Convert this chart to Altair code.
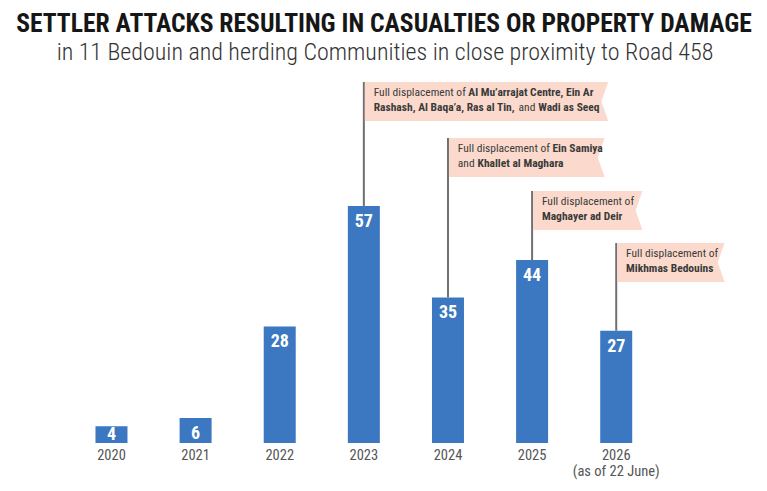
import altair as alt
import pandas as pd

# --- chart values -----------------------------------------------------------
years = ["2020", "2021", "2022", "2023", "2024", "2025", "2026"]
year_labels = ["2020", "2021", "2022", "2023", "2024", "2025", "2026\n(as of 22 June)"]
attacks = [4, 6, 28, 57, 35, 44, 27]

# displacement call-outs: which year they hang from
note_years = ["2023", "2024", "2025", "2026"]
# call-out text, split into (line, text, bold) runs
note_runs = [
    [(0, "Full displacement of", False), (0, "Al Mu\u2019arrajat Centre, Ein Ar", True),
     (1, "Rashash, Al Baqa\u2019a, Ras al Tin,", True), (1, "and", False), (1, "Wadi as Seeq", True)],
    [(0, "Full displacement of", False), (0, "Ein Samiya", True),
     (1, "and", False), (1, "Khallet al Maghara", True)],
    [(0, "Full displacement of", False), (1, "Maghayer ad Deir", True)],
    [(0, "Full displacement of", False), (1, "Mikhmas Bedouins", True)],
]

# --- layout -----------------------------------------------------------------
W, H = 683, 366
X_DOMAIN = [-0.6, 7.4]
Y_DOMAIN = [0, 88]
PX_X = W / (X_DOMAIN[1] - X_DOMAIN[0])   # pixels per x unit
PX_Y = H / (Y_DOMAIN[1] - Y_DOMAIN[0])   # pixels per y unit

note_top_px = [361, 305, 252, 200]       # banner top, px above the baseline
note_width_px = [247, 158, 111, 109]
note_run_dx_px = [
    [0, 96, 0, 147, 167],
    [0, 96, 0, 20],
    [0, 0],
    [0, 0],
]
BANNER_H = 39
NOTCH = 7
TEXT_PAD = 10
LINE_1 = 14
LINE_GAP = 14.5

FONT = "Roboto Condensed"
BLUE = "#3b78c1"
PEACH = "#fbdacd"
GREY_LINE = "#707070"

bars = pd.DataFrame({"idx": list(range(len(years))), "year": years,
                     "label": year_labels, "attacks": attacks})
bars["label_y"] = (bars["attacks"] - 5).clip(lower=0.7)
bars["zero"] = 0

notes = []
outline = []
runs = []
for n, yr in enumerate(note_years):
    i = years.index(yr)
    top = note_top_px[n] / PX_Y
    bottom = top - BANNER_H / PX_Y
    left = i + 1 / PX_X
    right = left + note_width_px[n] / PX_X
    notes.append({"idx": i, "attacks": attacks[i], "top": top})
    # banner outline with a swallow-tail cut on the right end
    for py, px in [(top, right), ((top + bottom) / 2, right - NOTCH / PX_X), (bottom, right)]:
        outline.append({"note": n, "py": py, "px": px, "left": left})
    for (line, text, bold), dx in zip(note_runs[n], note_run_dx_px[n]):
        runs.append({"x": i + (TEXT_PAD + dx) / PX_X,
                     "y": top - (LINE_1 + line * LINE_GAP) / PX_Y,
                     "text": text, "bold": bold})
notes = pd.DataFrame(notes)
outline = pd.DataFrame(outline)
runs = pd.DataFrame(runs)

xs = alt.Scale(domain=X_DOMAIN, nice=False, zero=False)
ys = alt.Scale(domain=Y_DOMAIN, nice=False)


def X(field):
    return alt.X(field, type="quantitative", scale=xs, axis=None)


def Y(field):
    return alt.Y(field, type="quantitative", scale=ys, axis=None)


base = alt.Chart(bars)

bar_layer = base.mark_bar(size=32, color=BLUE).encode(x=X("idx"), y=Y("attacks"))

value_text = base.mark_text(font=FONT, fontSize=18, fontWeight="bold",
                            color="white", baseline="alphabetic").encode(
    x=X("idx"), y=Y("label_y"), text=alt.Text("attacks:Q"),
)

year_text = base.mark_text(font=FONT, fontSize=14.5, color="#555555",
                           baseline="alphabetic", dy=17, lineBreak="\n",
                           lineHeight=16).encode(
    x=X("idx"), y=Y("zero"), text=alt.Text("label:N"),
)

leader = alt.Chart(notes).mark_rule(color=GREY_LINE, strokeWidth=2).encode(
    x=X("idx"), y=Y("attacks"), y2=alt.Y2("top"),
)

banner = alt.Chart(outline).mark_area(orient="horizontal", color=PEACH, opacity=1).encode(
    y=Y("py"), x=X("px"), x2=alt.X2("left"), detail=alt.Detail("note:N"),
)


def run_layer(bold):
    return alt.Chart(runs[runs["bold"] == bold].reset_index(drop=True)).mark_text(
        font=FONT, fontSize=11.5, align="left", baseline="alphabetic",
        color="#3a3a3a", fontWeight="bold" if bold else "normal",
    ).encode(x=X("x"), y=Y("y"), text=alt.Text("text:N"))


heading = pd.DataFrame({
    "t": ["SETTLER ATTACKS RESULTING IN CASUALTIES OR PROPERTY DAMAGE",
          "in 11 Bedouin and herding Communities in close proximity to Road 458"],
})

title = alt.Chart(heading.iloc[[0]]).mark_text(
    font=FONT, fontSize=25.6, fontWeight="bold", color="#161616", baseline="alphabetic"
).encode(x=alt.value(328), y=alt.value(-45.5), text=alt.Text("t:N"))

subtitle = alt.Chart(heading.iloc[[1]]).mark_text(
    font=FONT, fontSize=24, fontWeight=300, color="#333333", baseline="alphabetic"
).encode(x=alt.value(329), y=alt.value(-17), text=alt.Text("t:N"))

chart = alt.layer(
    leader, banner, run_layer(False), run_layer(True),
    bar_layer, value_text, year_text, title, subtitle
).properties(
    width=W, height=H,
    autosize=alt.AutoSizeParams(type="none"),
    padding={"left": 56, "top": 77, "right": 28, "bottom": 48},
    background="white",
).configure_view(stroke=None)

chart.save("out.html", embed_options={"renderer": "svg", "actions": False})
